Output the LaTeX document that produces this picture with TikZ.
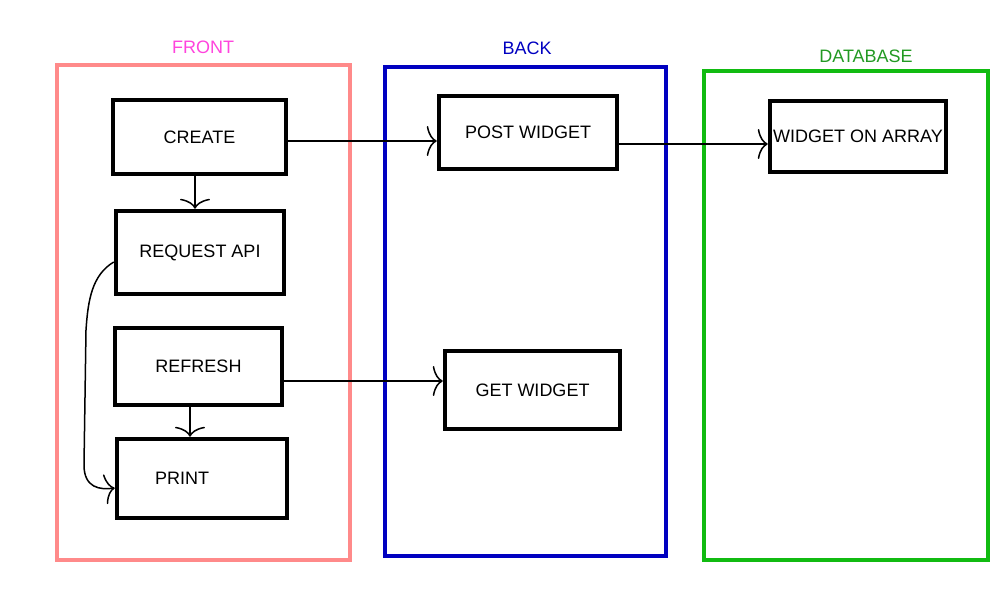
\documentclass[tikz,border=0pt]{standalone}
\usepackage{fontspec}
\setmainfont{Liberation Sans}
\usetikzlibrary{arrows.meta}
\definecolor{frontpink}{HTML}{FF8A8A}
\definecolor{frontlabel}{HTML}{FF44DD}
\definecolor{backblue}{HTML}{0000C0}
\definecolor{dbgreen}{HTML}{11BB11}
\definecolor{dblabel}{HTML}{229922}
\begin{document}
\begin{tikzpicture}[x=1pt,y=-1pt,
	font=\fontsize{18}{21}\selectfont,
	box/.style={draw,line width=4.5pt,minimum width=#1,inner sep=0pt},
	area/.style={draw=#1,line width=4pt},
	link/.style={line width=1.5pt,-{To[length=10pt,width=30pt]}}]
	\useasboundingbox (0,0) rectangle (1000,600);

	% the three parts
	\draw[area=frontpink] (57,65) rectangle (350,560);
	\draw[area=backblue] (385,67) rectangle (666,556);
	\draw[area=dbgreen] (704,71) rectangle (988,560);
	\node[text=frontlabel] (front) at (203,47) {FRONT};
	\node[text=backblue] (back) at (527,48) {BACK};
	\node[text=dblabel] (db) at (866,56) {DATABASE};

	% front
	\node[box=173pt,minimum height=74pt] (create) at (199.5,137) {CREATE};
	\node[box=168pt,minimum height=83pt] (request) at (200,252.5) {REQUEST API};
	\node[box=167pt,minimum height=77pt] (refresh) at (198.5,366.5) {REFRESH};
	\node[box=170pt,minimum height=79pt] (print) at (202,478.5) {PRINT\hspace*{40pt}};

	% back and database
	\node[box=178pt,minimum height=73pt] (post) at (528,132.5) {POST WIDGET};
	\node[box=175pt,minimum height=78pt] (get) at (532.5,390) {GET WIDGET};
	\node[box=176pt,minimum height=71pt] (array) at (858,136.5) {WIDGET ON ARRAY};

	\draw[link] (create.east |- 0,141) to (post.west |- 0,141);
	\draw[link] (post.east |- 0,144) to (array.west |- 0,144);
	\draw[link] (refresh.east |- 0,381) to (get.west |- 0,381);
	\draw[link] (create.south -| 195,0) to (request.north -| 195,0);
	\draw[link] (refresh.south -| 190,0) to (print.north -| 190,0);
	\draw[link] (request.west |- 0,262) .. controls (92,275) and (88,300) .. (86,330)
		to (84,465) .. controls (84,488) and (100,490) .. (print.west |- 0,488);
\end{tikzpicture}
\end{document}
